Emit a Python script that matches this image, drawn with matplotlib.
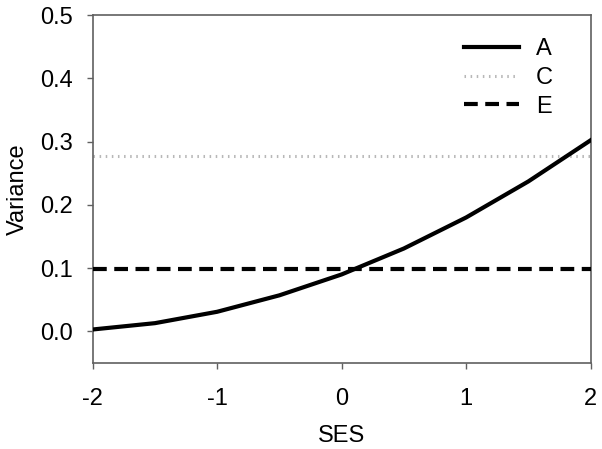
import matplotlib
matplotlib.use("Agg")
import matplotlib.pyplot as plt

ses = [-2, -1.5, -1, -0.5, 0, 0.5, 1, 1.5, 2]
var_A = [0.003, 0.013, 0.031, 0.057, 0.090, 0.131, 0.180, 0.237, 0.302]
var_C = [0.277] * len(ses)
var_E = [0.098] * len(ses)
xticks = [-2, -1, 0, 1, 2]
yticks = [0.0, 0.1, 0.2, 0.3, 0.4, 0.5]

plt.rcParams['font.family'] = ['Liberation Sans', 'DejaVu Sans']

fig = plt.figure(figsize=(6.02, 4.49), dpi=100)
ax = fig.add_axes([0.154, 0.1915, 0.827, 0.775])

ax.plot(ses, var_C, color='#b8b8b8', lw=2.2, linestyle=(0, (0.5, 1.5)), label='C', zorder=2)
ax.plot(ses, var_E, color='black', lw=3, linestyle=(0, (3.3, 1.8)), label='E', zorder=3)
ax.plot(ses, var_A, color='black', lw=3, label='A', zorder=4)

ax.set_xlim(-2, 2)
ax.set_ylim(-0.05, 0.5)
ax.set_xticks(xticks)
ax.set_xticklabels([str(t) for t in xticks])
ax.set_yticks(yticks)
ax.set_yticklabels([f"{t:.1f}" for t in yticks])
ax.tick_params(direction='out', length=4.5, width=1, color='#606060', labelsize=17)
ax.tick_params(axis='x', pad=13.5)
ax.tick_params(axis='y', pad=9.5)
ax.tick_params(top=False, right=False)
for s in ax.spines.values():
    s.set_color('#606060')
    s.set_linewidth(1.2)

ax.set_xlabel('SES', fontsize=17, labelpad=11)
ax.set_ylabel('Variance', fontsize=17, labelpad=8.5)

handles, labels = ax.get_legend_handles_labels()
order = [labels.index(l) for l in ['A', 'C', 'E']]
ax.legend([handles[i] for i in order], [labels[i] for i in order],
          loc='upper right', frameon=False, fontsize=17, handlelength=2.35,
          handletextpad=0.72, labelspacing=0.28, borderaxespad=0.0,
          borderpad=0.0, bbox_to_anchor=(0.925, 0.933))

fig.savefig('out.png', dpi=100)
